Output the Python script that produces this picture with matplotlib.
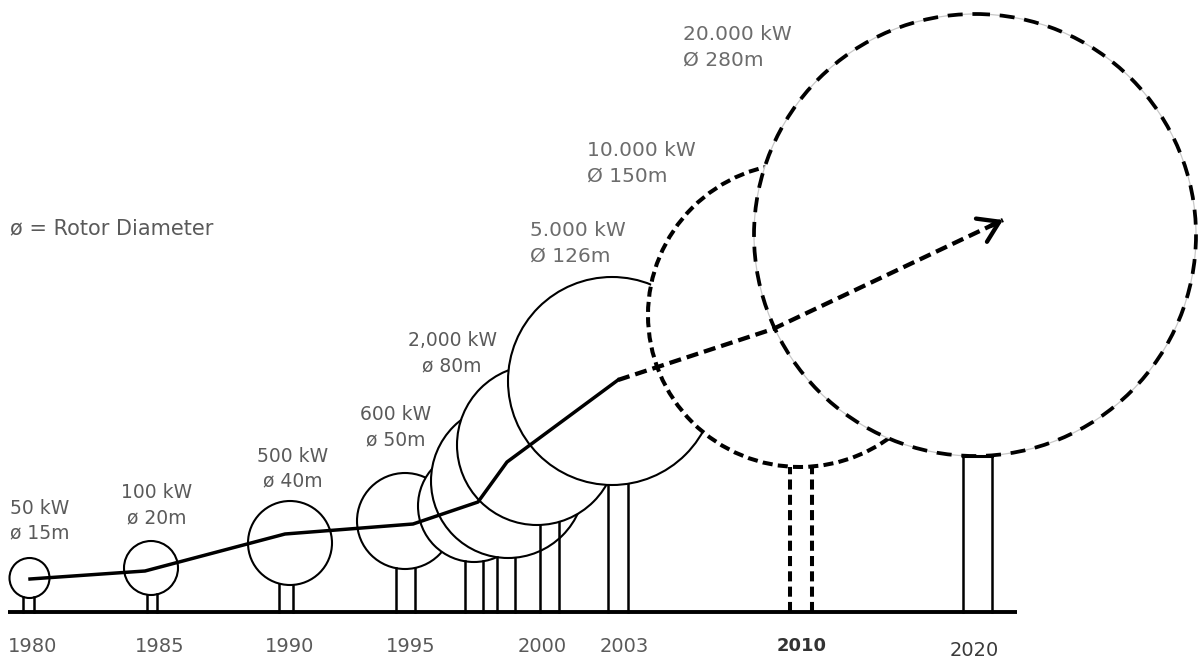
import numpy as np
import matplotlib
matplotlib.use("Agg")
import matplotlib.pyplot as plt
from matplotlib.patches import Circle

# ---------------- data ----------------
years = ["1980", "1985", "1990", "1995", "2000", "2003", "2010", "2020"]
power_labels = ["50 kW", "100 kW", "500 kW", "600 kW", "2,000 kW",
                "5.000 kW", "10.000 kW", "20.000 kW"]
diam_labels = ["ø 15m", "ø 20m", "ø 40m", "ø 50m", "ø 80m",
               "Ø 126m", "Ø 150m", "Ø 280m"]
legend_text = "ø = Rotor Diameter"

# ---------------- layout (pixel space of the infographic) ----------------
crown_x = [29.5, 151, 290, 405, 474, 508, 537, 612, 800, 975]
crown_y = [578, 568, 543, 521, 506, 481, 445, 381, 315, 235]
crown_r = [20, 27, 42, 48, 56, 77, 80, 104, 152, 221]
trunk_x = [28.5, 152, 286, 405.5, 474, 506, 549.5, 618, 801, 977.5]
trunk_half = [5.5, 5, 7, 9.5, 9, 9, 9.5, 10, 11, 14.5]
crown_style = ["solid"] * 8 + ["dot", "dash"]
trunk_style = ["solid"] * 8 + ["dot", "solid"]
ground_y = 612
ground_x = [8, 1017]

trend_x = [30, 145, 285, 413, 478, 507, 618]
trend_y = [579, 571, 534, 524, 502, 462, 380]
future_x = [618, 773, 1003]
future_y = [380, 329, 220]

year_x = [33, 160, 290, 411, 542, 624, 802, 974]
year_y = [646, 646, 646, 646, 646, 646, 646, 650]

lab_x = [40, 157, 293, 396, 452, 530, 587, 683]
lab_y1 = [508, 493, 456, 415, 341, 231, 151, 35]
lab_gap = 25
lab_ha = ["center"] * 5 + ["left"] * 3

W, H = 1198, 664
fig = plt.figure(figsize=(W / 100, H / 100), dpi=100)
ax = fig.add_axes([0, 0, 1, 1])
ax.set_xlim(0, W)
ax.set_ylim(H, 0)
ax.axis("off")

styles = {
    "solid": dict(linestyle="-", lw=1.5),
    "dot": dict(linestyle=(0, (2.5, 1.3)), lw=2.9),
    "dash": dict(linestyle=(0, (4.0, 2.6)), lw=2.7),
}

for i, (cx, cy, r) in enumerate(zip(crown_x, crown_y, crown_r)):
    z = 2 + i
    st = styles[crown_style[i]]
    if crown_style[i] == "dash":
        ax.add_patch(Circle((cx, cy), r, facecolor="white", edgecolor="#c8c8c8",
                            lw=0.9, zorder=z))
        ax.add_patch(Circle((cx, cy), r, facecolor="none", edgecolor="black",
                            zorder=z + 0.1, **st))
    else:
        ax.add_patch(Circle((cx, cy), r, facecolor="white", edgecolor="black",
                            zorder=z, **st))
    tst = styles[trunk_style[i]] if trunk_style[i] != "solid" else dict(linestyle="-", lw=1.8)
    tops = []
    for sgn in (-1, 1):
        tx = trunk_x[i] + sgn * trunk_half[i]
        top = cy + np.sqrt(max(r ** 2 - (tx - cx) ** 2, 0))
        tops.append(top)
        ax.plot([tx, tx], [ground_y, top], color="black", zorder=z + 0.2, **tst)
    if i == len(crown_x) - 1:
        ax.plot([trunk_x[i] - trunk_half[i], trunk_x[i] + trunk_half[i]],
                [min(tops) + 1, min(tops) + 1], color="black", lw=2.2, zorder=z + 0.3)

# ground
ax.plot(ground_x, [ground_y, ground_y], color="black", lw=2.8,
        solid_capstyle="butt", zorder=30)

# trend line
ax.plot(trend_x, trend_y, color="black", lw=2.5, solid_joinstyle="round", zorder=25)
ax.plot(future_x, future_y, color="black", lw=3.1, linestyle=(0, (2.8, 1.4)), zorder=25)
dx = future_x[-1] - future_x[-2]
dy = future_y[-1] - future_y[-2]
n = np.hypot(dx, dy)
ax.annotate("", xy=(future_x[-1], future_y[-1]),
            xytext=(future_x[-1] - dx / n * 14, future_y[-1] - dy / n * 14),
            arrowprops=dict(arrowstyle="->,head_length=0.65,head_width=0.42",
                            lw=3.1, color="black", mutation_scale=22,
                            shrinkA=0, shrinkB=0),
            zorder=26)

# labels
for i in range(len(power_labels)):
    if i < 5:
        kw = dict(fontsize=13.5, color="#5a5a5a", family="DejaVu Sans")
    else:
        kw = dict(fontsize=14.5, color="#6c6c6c", family="DejaVu Sans")
    ax.text(lab_x[i], lab_y1[i], power_labels[i], ha=lab_ha[i], va="center", zorder=40, **kw)
    ax.text(lab_x[i], lab_y1[i] + lab_gap, diam_labels[i], ha=lab_ha[i], va="center",
            zorder=40, **kw)

ax.text(10, 228, legend_text, ha="left", va="center", fontsize=15, color="#5a5a5a",
        family="DejaVu Sans", zorder=40)

for i, y in enumerate(years):
    if y == "2010":
        kw = dict(fontsize=13, color="#333333", fontweight="bold")
    elif y == "2020":
        kw = dict(fontsize=14, color="#3a3a3a")
    else:
        kw = dict(fontsize=14, color="#5a5a5a")
    ax.text(year_x[i], year_y[i], y, ha="center", va="center", family="DejaVu Sans",
            zorder=40, **kw)

fig.savefig("out.png", dpi=100, facecolor="white")
